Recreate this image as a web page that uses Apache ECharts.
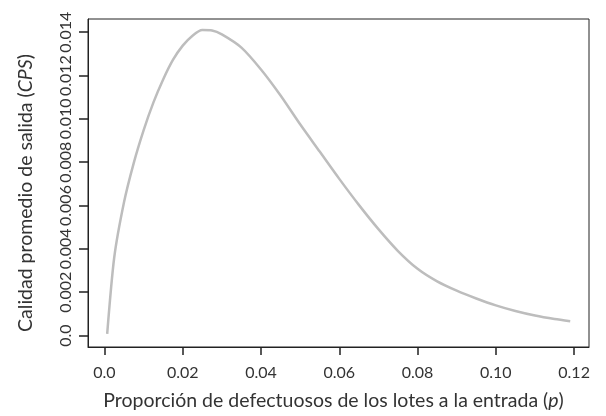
<!DOCTYPE html>
<html>
<head>
<meta charset="utf-8">
<script src="https://cdn.jsdelivr.net/npm/echarts@6/dist/echarts.min.js"></script>
<style>
  html,body{margin:0;padding:0;background:#fff;}
  #chart{width:606px;height:416px;}
</style>
</head>
<body>
<div id="chart"></div>
<script>
// proporcion defectuosa p
var pVals = [0.0007, 0.0025, 0.005, 0.0075, 0.010, 0.0125, 0.015, 0.0175, 0.020, 0.0225, 0.025,
             0.0275, 0.030, 0.035, 0.040, 0.045, 0.050, 0.055, 0.060, 0.065, 0.070,
             0.075, 0.080, 0.085, 0.090, 0.095, 0.100, 0.105, 0.110, 0.115, 0.119];
// calidad promedio de salida CPS
var cpsVals = [0.00008, 0.00360, 0.00615, 0.00797, 0.00947, 0.01075, 0.01182, 0.01272, 0.01338, 0.01384, 0.01410,
               0.01408, 0.01390, 0.01329, 0.01228, 0.01108, 0.00975, 0.00849, 0.00723, 0.00603, 0.00491,
               0.00390, 0.00308, 0.00250, 0.00207, 0.00171, 0.00139, 0.00113, 0.00092, 0.00076, 0.00066];
var xTicks = [0, 0.02, 0.04, 0.06, 0.08, 0.10, 0.12];
var xTickText = ['0.0', '0.02', '0.04', '0.06', '0.08', '0.10', '0.12'];
var yTicks = [0, 0.002, 0.004, 0.006, 0.008, 0.010, 0.012, 0.014];
var yTickText = ['0.0', '0.002', '0.004', '0.006', '0.008', '0.010', '0.012', '0.014'];

var data = [];
for (var i = 0; i < pVals.length; i++) {
	data.push([pVals[i], cpsVals[i]]);
}

var font = 'Lato';
var txtColor = '#333';
var boxColor = '#222';

var chart = echarts.init(document.getElementById('chart'));
chart.setOption({
	animation: false,
	grid: {left: 88, right: 17, top: 19, bottom: 67, show: true, borderColor: boxColor, borderWidth: 1},
	xAxis: [{
		type: 'value',
		min: -0.0042, max: 0.1238,
		name: 'Proporción de defectuosos de los lotes a la entrada ({i|p})',
		nameLocation: 'middle', nameGap: 44,
		nameTextStyle: {fontFamily: font, fontSize: 19.5, color: txtColor, padding: [0, 10, 0, 0],
			rich: {i: {fontFamily: font, fontSize: 19.5, fontStyle: 'italic', color: txtColor}}},
		// eje auxiliar sin cero: deja el eje en el borde del recuadro
		axisLine: {show: true, onZero: true, onZeroAxisIndex: 1, lineStyle: {color: boxColor, width: 1}},
		axisTick: {show: true, length: 8, customValues: xTicks, lineStyle: {color: boxColor, width: 1.5}},
		axisLabel: {customValues: xTicks, margin: 18, fontFamily: font, fontSize: 16, color: txtColor,
			formatter: function(v){ return xTickText[xTicks.indexOf(v)]; }},
		splitLine: {show: false}
	}, {
		type: 'value', min: 1, max: 2, show: false
	}],
	yAxis: [{
		type: 'value',
		min: -0.00053, max: 0.01461,
		name: 'Calidad promedio de salida ({i|CPS})',
		nameLocation: 'middle', nameGap: 52, nameRotate: 90,
		nameTextStyle: {fontFamily: font, fontSize: 19.5, color: txtColor, padding: [0, 20, 0, 0],
			rich: {i: {fontFamily: font, fontSize: 19.5, fontStyle: 'italic', color: txtColor}}},
		axisLine: {show: true, onZero: true, onZeroAxisIndex: 1, lineStyle: {color: boxColor, width: 1}},
		axisTick: {show: true, length: 9, customValues: yTicks, lineStyle: {color: boxColor, width: 1.5}},
		axisLabel: {customValues: yTicks, rotate: 90, margin: 22, fontFamily: font, fontSize: 16, color: txtColor,
			verticalAlign: 'middle', align: 'center',
			formatter: function(v){ return yTickText[yTicks.indexOf(v)]; }},
		splitLine: {show: false}
	}, {
		type: 'value', min: 1, max: 2, show: false
	}],
	series: [{
		type: 'line',
		xAxisIndex: 0, yAxisIndex: 0,
		data: data,
		smooth: 0.25,
		showSymbol: false,
		lineStyle: {color: '#bdbdbd', width: 2.5}
	}]
});
</script>
</body>
</html>
